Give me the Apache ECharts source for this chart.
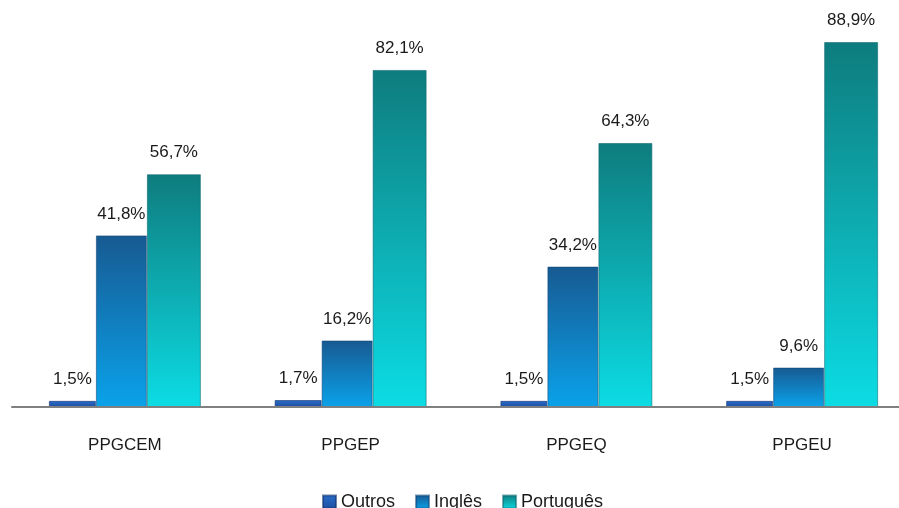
<!DOCTYPE html>
<html>
<head>
<meta charset="utf-8">
<script src="https://cdn.jsdelivr.net/npm/echarts@6/dist/echarts.min.js"></script>
<style>
  html, body { margin: 0; padding: 0; background: #ffffff; }
  #chart { width: 899px; height: 508px; }
</style>
</head>
<body>
<div id="chart"></div>
<script>
// Share of theses by language, per graduate program (%)
const categories = ['PPGCEM', 'PPGEP', 'PPGEQ', 'PPGEU'];
const outros = [1.5, 1.7, 1.5, 1.5];
const ingles = [41.8, 16.2, 34.2, 9.6];
const portugues = [56.7, 82.1, 64.3, 88.9];

const FONT = '"Liberation Sans", Arial, sans-serif';

function vGrad(top, bottom) {
  return new echarts.graphic.LinearGradient(0, 0, 0, 1, [
    { offset: 0, color: top },
    { offset: 1, color: bottom }
  ]);
}

function pct(p) {
  return p.value.toFixed(1).replace('.', ',') + '%';
}

function barSeries(name, data, width, top, bottom, edge, legendColor) {
  return {
    name: name,
    type: 'bar',
    data: data,
    barWidth: width,
    barGap: '0%',
    color: legendColor,
    itemStyle: {
      color: vGrad(top, bottom),
      borderColor: edge,
      borderWidth: 1
    },
    label: {
      show: true,
      position: 'top',
      distance: 13,
      formatter: pct,
      fontFamily: FONT,
      fontSize: 17,
      color: '#1a1a1a'
    },
    emphasis: { disabled: true }
  };
}

const chart = echarts.init(document.getElementById('chart'), null, { renderer: 'canvas' });
chart.setOption({
  animation: false,
  backgroundColor: '#ffffff',
  grid: {
    left: 12, width: 903, top: 37.5, bottom: 101,
    containLabel: false,
    outerBoundsMode: 'none'
  },
  legend: {
    left: 317,
    top: 488,
    itemWidth: 13,
    itemHeight: 13,
    itemGap: 20,
    icon: 'rect',
    textStyle: { fontFamily: FONT, fontSize: 18, color: '#1a1a1a' },
    data: ['Outros', 'Inglês', 'Português']
  },
  xAxis: {
    type: 'category',
    data: categories,
    axisLine: { show: true, lineStyle: { color: '#808080', width: 2 } },
    axisTick: { show: false },
    axisLabel: { margin: 30, fontFamily: FONT, fontSize: 17, color: '#1a1a1a' },
    z: 5
  },
  yAxis: {
    type: 'value',
    min: 0,
    max: 90,
    show: false,
    splitLine: { show: false }
  },
  series: [
    barSeries('Outros', outros, 47, '#2a6cc8', '#1c4fa0', 'rgba(20,50,110,0.6)', '#1f55ab'),
    barSeries('Inglês', ingles, 51, '#175a92', '#0aa2ea', 'rgba(15,70,120,0.55)', '#1b7fc6'),
    barSeries('Português', portugues, 54, '#0e7c7e', '#0cdce4', 'rgba(10,100,110,0.55)', '#16b6bf')
  ]
});
</script>
</body>
</html>
